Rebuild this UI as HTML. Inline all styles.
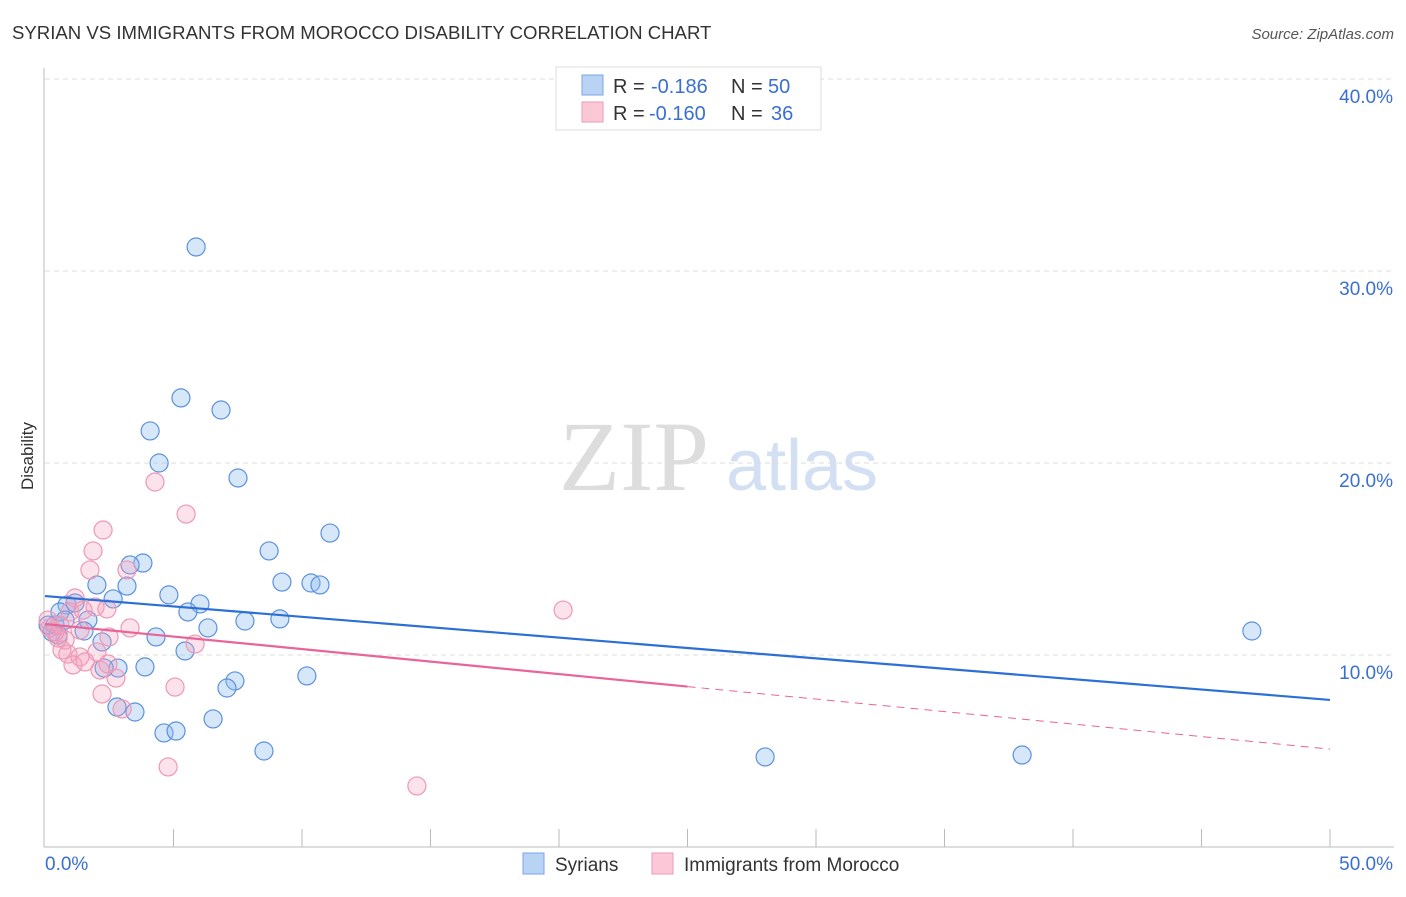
<!DOCTYPE html>
<html><head><meta charset="utf-8"><style>
body{margin:0;background:#fff;font-family:"Liberation Sans",sans-serif;}
</style></head><body>
<svg id="chart" width="1406" height="892" xmlns="http://www.w3.org/2000/svg" font-family="Liberation Sans, sans-serif">
<text x="12" y="39" font-size="18.6" fill="#333">SYRIAN VS IMMIGRANTS FROM MOROCCO DISABILITY CORRELATION CHART</text>
<text x="1394" y="39" font-size="15" fill="#555" text-anchor="end" font-style="italic">Source: ZipAtlas.com</text>
<text x="33" y="456" font-size="17" fill="#333" text-anchor="middle" transform="rotate(-90 33 456)">Disability</text>
<g>
<text x="634" y="490" font-size="100" fill="#ddd" text-anchor="middle" style="font-family:'Liberation Serif',serif">ZIP</text>
<text x="802" y="490" font-size="72" fill="#d3e0f3" text-anchor="middle">atlas</text>
</g>
<g id="grid"></g><g id="axes"></g><g id="marks"></g>
<g>
<rect x="556" y="67" width="265" height="63" fill="#fff" stroke="#ddd"/>
<rect x="582" y="75" width="21" height="20" fill="#b9d3f5" stroke="#7aa6e6"/>
<rect x="582" y="102" width="21" height="20" fill="#fbc8d8" stroke="#ef9ab5"/>
<text x="613" y="93" font-size="20" fill="#333">R = <tspan x="651" fill="#3a6fd0">-0.186</tspan><tspan x="731">N = </tspan><tspan x="768" fill="#3a6fd0">50</tspan></text>
<text x="613" y="120" font-size="20" fill="#333">R = <tspan x="649" fill="#3a6fd0">-0.160</tspan><tspan x="731">N = </tspan><tspan x="771" fill="#3a6fd0">36</tspan></text>
</g>
<g>
<rect x="523" y="853" width="21" height="21" fill="#b9d3f5" stroke="#7aa6e6"/>
<text x="555" y="871" font-size="19" fill="#333">Syrians</text>
<rect x="652" y="853" width="21" height="21" fill="#fbc8d8" stroke="#ef9ab5"/>
<text x="684" y="871" font-size="19" fill="#333">Immigrants from Morocco</text>
</g>
</svg>
<script>
const yTicks=[10,20,30,40];
const yTickLabels=["10.0%","20.0%","30.0%","40.0%"];
const xTickLabels=["0.0%","50.0%"];
const syrX=[5.88,5.29,6.85,4.09,4.44,7.51,11.09,8.72,3.81,3.31,2.02,3.19,4.82,9.22,10.35,10.7,2.65,6.03,0.86,1.17,5.56,1.67,7.78,9.14,6.34,1.52,46.96,4.32,2.22,5.45,0.39,0.27,0.51,3.89,2.84,2.3,10.19,7.39,7.08,6.54,2.8,3.5,4.63,5.1,8.52,28.02,38.02,0.58,0.12,0.78];
const syrY=[31.25,23.39,22.76,21.67,20.0,19.22,16.35,15.42,14.79,14.69,13.65,13.59,13.13,13.8,13.75,13.65,12.92,12.66,12.6,12.71,12.24,11.82,11.77,11.88,11.41,11.25,11.25,10.94,10.68,10.21,11.56,11.2,11.04,9.38,9.32,9.32,8.91,8.65,8.28,6.67,7.29,7.03,5.94,6.04,5.0,4.69,4.79,12.24,11.56,11.82];
const morX=[4.28,5.49,2.26,1.87,1.75,3.19,20.16,1.17,1.95,2.41,3.31,2.49,5.84,0.78,0.51,0.19,0.66,0.89,1.36,2.02,1.09,1.56,2.14,2.76,2.22,5.06,3.0,4.79,14.47,0.39,0.12,0.58,0.97,1.48,2.45,1.36];
const morY=[19.01,17.34,16.51,15.42,14.43,14.43,12.34,12.97,12.5,12.4,11.41,10.94,10.57,10.78,10.89,11.41,10.26,10.05,9.9,10.16,9.48,9.64,9.22,8.8,7.97,8.33,7.19,4.17,3.18,11.2,11.82,11.56,12.24,12.34,9.53,11.3];
const syrTrend=[13.07,7.66];
const morTrend=[11.61,5.1];
const morSolidEnd=25;
const NS="http://www.w3.org/2000/svg";
const xS=v=>45+v*25.7;
const yS=v=>847-v*19.2;
function mk(tag,attrs,parent){const e=document.createElementNS(NS,tag);for(const k in attrs)e.setAttribute(k,attrs[k]);document.getElementById(parent).appendChild(e);return e;}
yTicks.forEach((t,i)=>{
 const g=mk('line',{x1:45,x2:1394,y1:yS(t),y2:yS(t),stroke:'#ddd','stroke-dasharray':'5,4'},'grid');
 
 
 const l=mk('text',{x:1393,y:yS(t)+24,'font-size':19,fill:'#3a6fd0','text-anchor':'end'},'axes');
 l.textContent=yTickLabels[i];
 
 
});
const ax=mk('line',{x1:44,x2:44,y1:68,y2:847,stroke:'#bbb'},'axes');


const bx=mk('line',{x1:44,x2:1394,y1:847,y2:847,stroke:'#bbb'},'axes');


for(let i=1;i<=10;i++){
 const t=mk('line',{x1:xS(i*5),x2:xS(i*5),y1:829,y2:847,stroke:'#bbb'},'axes');
 
 
}
[[0,'start',45],[50,'end',1393]].forEach((d,i)=>{
 const l=mk('text',{x:d[2],y:870,'font-size':19,fill:'#3a6fd0','text-anchor':d[1]},'axes');
 l.textContent=xTickLabels[i];
 
 
});
syrX.forEach((v,i)=>{
 const c=mk('circle',{cx:xS(v),cy:yS(syrY[i]),r:9,fill:'rgba(140,185,240,0.35)',stroke:'#5b91dc','stroke-width':1.2},'marks');
 
 
});
morX.forEach((v,i)=>{
 const c=mk('circle',{cx:xS(v),cy:yS(morY[i]),r:9,fill:'rgba(245,160,190,0.3)',stroke:'#ee98b4','stroke-width':1.2},'marks');
 
 
});
const bl=mk('line',{x1:xS(0),y1:yS(syrTrend[0]),x2:xS(50),y2:yS(syrTrend[1]),stroke:'#2c6fd6','stroke-width':2.2},'marks');


const mAt=x=>morTrend[0]+(morTrend[1]-morTrend[0])*x/50;
const pl=mk('line',{x1:xS(0),y1:yS(morTrend[0]),x2:xS(morSolidEnd),y2:yS(mAt(morSolidEnd)),stroke:'#e8649a','stroke-width':2.2},'marks');


const pd=mk('line',{x1:xS(morSolidEnd),y1:yS(mAt(morSolidEnd)),x2:xS(50),y2:yS(morTrend[1]),stroke:'#e8649a','stroke-width':1,'stroke-dasharray':'8,6'},'marks');


</script>
</body></html>
